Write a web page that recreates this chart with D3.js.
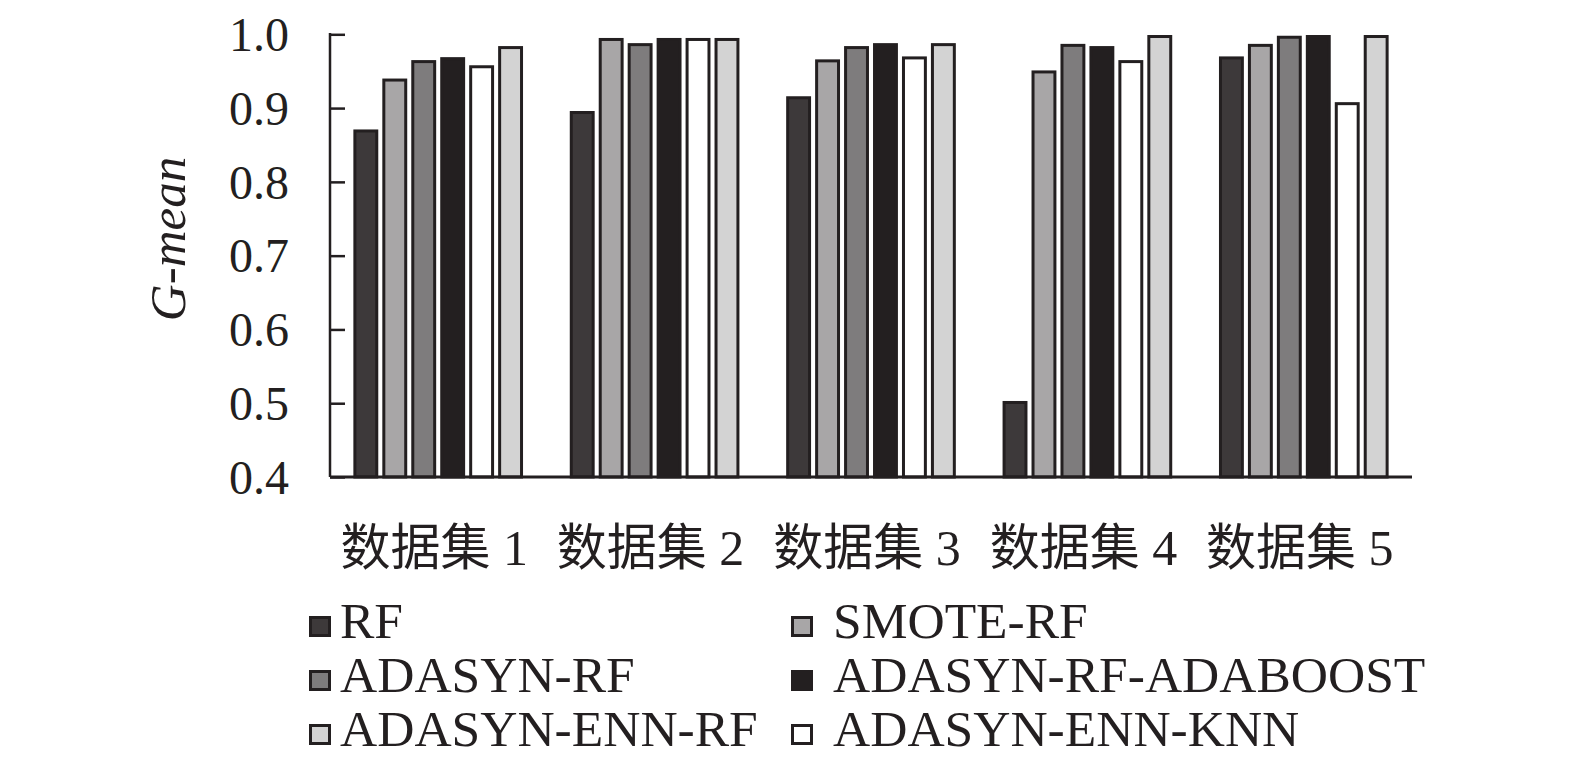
<!DOCTYPE html>
<html>
<head>
<meta charset="utf-8">
<script src="https://cdn.jsdelivr.net/npm/d3@7"></script>
<style>
  html, body { margin: 0; padding: 0; background: #fff; }
  svg { display: block; }
</style>
</head>
<body>
<svg id="chart" width="1575" height="770"></svg>
<script>
// ---- data ----
const categories = ["数据集 1", "数据集 2", "数据集 3", "数据集 4", "数据集 5"];
const seriesNames = ["RF", "SMOTE-RF", "ADASYN-RF", "ADASYN-RF-ADABOOST", "ADASYN-ENN-KNN", "ADASYN-ENN-RF"];
const rfValues       = [0.869, 0.894, 0.914, 0.501, 0.968];
const smoteRfValues  = [0.938, 0.993, 0.964, 0.949, 0.985];
const adasynRfValues = [0.963, 0.986, 0.982, 0.985, 0.996];
const adaboostValues = [0.967, 0.993, 0.986, 0.982, 0.997];
const ennKnnValues   = [0.956, 0.993, 0.968, 0.963, 0.906];
const ennRfValues    = [0.982, 0.993, 0.986, 0.997, 0.997];
const yTicks = [0.4, 0.5, 0.6, 0.7, 0.8, 0.9, 1.0];
const legendOrder = ["RF", "SMOTE-RF", "ADASYN-RF", "ADASYN-RF-ADABOOST", "ADASYN-ENN-RF", "ADASYN-ENN-KNN"];

const seriesValues = {
  "RF": rfValues,
  "SMOTE-RF": smoteRfValues,
  "ADASYN-RF": adasynRfValues,
  "ADASYN-RF-ADABOOST": adaboostValues,
  "ADASYN-ENN-KNN": ennKnnValues,
  "ADASYN-ENN-RF": ennRfValues
};

// ---- styles ----
const ink = "#231f20";
const fills = {
  "RF": "#3d393a",
  "SMOTE-RF": "#a8a6a7",
  "ADASYN-RF": "#7e7c7d",
  "ADASYN-RF-ADABOOST": "#231f20",
  "ADASYN-ENN-KNN": "#ffffff",
  "ADASYN-ENN-RF": "#d3d3d3"
};

const plotLeft = 330, plotRight = 1412, plotTop = 34.3, plotBottom = 477;
const svg = d3.select("#chart");

const x0 = d3.scaleBand().domain(categories).range([plotLeft, plotRight])
  .paddingInner(0.216).paddingOuter(0.108);
const x1 = d3.scaleBand().domain(seriesNames).range([0, x0.bandwidth()])
  .paddingInner(0.14).paddingOuter(0);
const y = d3.scaleLinear().domain([0.4, 1.0]).range([plotBottom, plotTop]);

const sw = 3;

// bars
const groups = svg.append("g").selectAll("g")
  .data(categories).join("g")
  .attr("transform", d => `translate(${x0(d)},0)`);

groups.selectAll("rect")
  .data((c, i) => seriesNames.map(s => ({ s, v: seriesValues[s][i] })))
  .join("rect")
  .attr("x", d => x1(d.s) + sw / 2)
  .attr("width", x1.bandwidth() - sw)
  .attr("y", d => y(d.v))
  .attr("height", d => plotBottom - y(d.v))
  .attr("fill", d => fills[d.s])
  .attr("stroke", ink)
  .attr("stroke-width", sw);

// y axis
const yAxis = d3.axisRight(y).tickValues(yTicks).tickSize(15).tickFormat("");
const yg = svg.append("g").attr("transform", `translate(${plotLeft},0)`).call(yAxis);
yg.select(".domain").remove();
yg.selectAll(".tick line").attr("stroke", ink).attr("stroke-width", 2.5);
svg.append("line").attr("x1", plotLeft).attr("x2", plotLeft).attr("y1", y(1.0) - 1.2).attr("y2", plotBottom)
  .attr("stroke", ink).attr("stroke-width", 2.5);

// y tick labels
svg.append("g").selectAll("text").data(yTicks).join("text")
  .attr("x", 289).attr("y", d => y(d))
  .attr("dy", "0.35em")
  .attr("text-anchor", "end")
  .attr("font-family", "'Liberation Serif', 'Times New Roman', serif")
  .attr("font-size", 48)
  .attr("fill", ink)
  .text(d => d3.format(".1f")(d));

// x axis baseline
svg.append("line").attr("x1", plotLeft).attr("x2", plotRight).attr("y1", plotBottom).attr("y2", plotBottom)
  .attr("stroke", ink).attr("stroke-width", 3);

// x labels
svg.append("g").selectAll("text").data(categories).join("text")
  .attr("x", d => x0(d) + x0.bandwidth() / 2 - 4)
  .attr("y", 565)
  .attr("text-anchor", "middle")
  .attr("font-family", "'Liberation Serif', 'Noto Sans CJK SC', serif")
  .attr("font-size", 50)
  .attr("fill", ink)
  .text(d => d);

// y title
svg.append("text")
  .attr("transform", "translate(185,239) rotate(-90)")
  .attr("text-anchor", "middle")
  .attr("font-family", "'Liberation Serif', 'Times New Roman', serif")
  .attr("font-style", "italic")
  .attr("font-size", 51)
  .attr("fill", ink)
  .text("G-mean");

// legend
const colSwatchX = [309, 791];
const colTextX = [340, 833];
const rowBaseline = [638, 692, 746];
const leg = svg.append("g").selectAll("g").data(legendOrder).join("g");
leg.append("rect")
  .attr("x", (d, i) => colSwatchX[i % 2] + sw / 2)
  .attr("y", (d, i) => rowBaseline[Math.floor(i / 2)] - 22 + sw / 2)
  .attr("width", 22 - sw)
  .attr("height", 21 - sw)
  .attr("fill", d => fills[d])
  .attr("stroke", ink)
  .attr("stroke-width", sw);
leg.append("text")
  .attr("x", (d, i) => colTextX[i % 2])
  .attr("y", (d, i) => rowBaseline[Math.floor(i / 2)])
  .attr("font-family", "'Liberation Serif', 'Times New Roman', serif")
  .attr("font-size", 51.5)
  .attr("fill", ink)
  .text(d => d);
</script>
</body>
</html>
